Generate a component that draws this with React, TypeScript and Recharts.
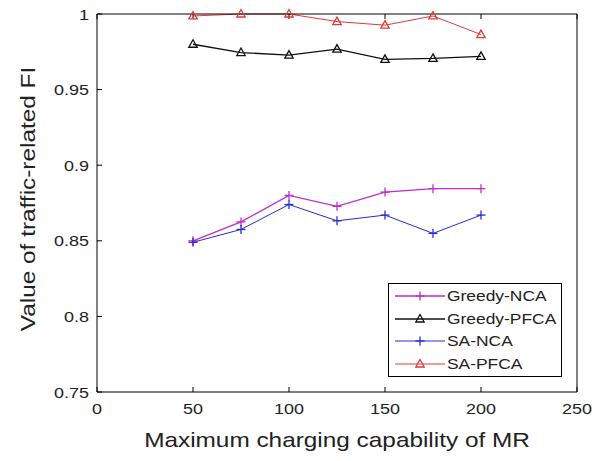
import { Legend, Line, LineChart, XAxis, YAxis } from "recharts";

const capability = [50, 75, 100, 125, 150, 175, 200];
const greedyNca = [0.85, 0.8625, 0.88, 0.8728, 0.8822, 0.8845, 0.8845];
const greedyPfca = [0.98, 0.9745, 0.9728, 0.9768, 0.97, 0.9706, 0.972];
const saNca = [0.849, 0.8575, 0.874, 0.8632, 0.867, 0.8549, 0.867];
const saPfca = [0.9987, 1.0, 1.0, 0.995, 0.9926, 0.9987, 0.9864];
const xTicks = [0, 50, 100, 150, 200, 250];
const yTicks = [0.75, 0.8, 0.85, 0.9, 0.95, 1];

const FONT = "'Liberation Sans', Arial, Helvetica, sans-serif";
const STRETCH = 1.16; // the original's Helvetica renders a bit wide
const TEXT = "#222";

type Shape = "plus" | "triangle";

const SERIES: { key: string; name: string; color: string; shape: Shape; width: number }[] = [
  { key: "greedyNca", name: "Greedy-NCA", color: "#c02cc8", shape: "plus", width: 1.3 },
  { key: "greedyPfca", name: "Greedy-PFCA", color: "#111111", shape: "triangle", width: 1.3 },
  { key: "saNca", name: "SA-NCA", color: "#2a2ad8", shape: "plus", width: 1 },
  { key: "saPfca", name: "SA-PFCA", color: "#e03a3a", shape: "triangle", width: 1 },
];

const chartData = capability.map((c, i) => ({
  capability: c,
  greedyNca: greedyNca[i],
  greedyPfca: greedyPfca[i],
  saNca: saNca[i],
  saPfca: saPfca[i],
}));

function Marker({ cx, cy, color, shape }: { cx: number; cy: number; color: string; shape: Shape }) {
  if (shape === "plus") {
    return (
      <g stroke={color} strokeWidth={1.3}>
        <line x1={cx - 4.5} x2={cx + 4.5} y1={cy} y2={cy} />
        <line x1={cx} x2={cx} y1={cy - 4.5} y2={cy + 4.5} />
      </g>
    );
  }
  return (
    <polygon
      points={`${cx},${cy - 4.5} ${cx - 4.2},${cy + 3} ${cx + 4.2},${cy + 3}`}
      fill="none"
      stroke={color}
      strokeWidth={1.3}
    />
  );
}

function XTick({ x, y, payload }: any) {
  return (
    <g transform={`translate(${x},${y})`}>
      <text
        transform={`scale(${STRETCH},1)`}
        textAnchor="middle"
        dy="0.71em"
        fontSize={15.5}
        fontFamily={FONT}
        fill={TEXT}
      >
        {payload.value}
      </text>
    </g>
  );
}

function YTick({ x, y, payload }: any) {
  return (
    <g transform={`translate(${x},${y})`}>
      <text
        transform={`scale(${STRETCH},1)`}
        textAnchor="end"
        dy="0.355em"
        fontSize={15.5}
        fontFamily={FONT}
        fill={TEXT}
      >
        {payload.value}
      </text>
    </g>
  );
}

function XTitle({ viewBox }: any) {
  return (
    <text
      transform={`translate(${viewBox.x + viewBox.width / 2},${viewBox.y + 55}) scale(${STRETCH},1)`}
      textAnchor="middle"
      fontSize={21}
      fontFamily={FONT}
      fill={TEXT}
    >
      Maximum charging capability of MR
    </text>
  );
}

function YTitle({ viewBox }: any) {
  return (
    <text
      transform={`translate(35,${viewBox.y + viewBox.height / 2 - 4}) rotate(-90) scale(${STRETCH},1)`}
      textAnchor="middle"
      fontSize={21}
      fontFamily={FONT}
      fill={TEXT}
    >
      Value of traffic-related FI
    </text>
  );
}

function LegendBox() {
  return (
    <div
      style={{
        border: "1px solid #000",
        background: "#fff",
        padding: "1px 0 1px 6px",
        boxSizing: "border-box",
        width: 174,
        height: 94,
        fontFamily: FONT,
        fontSize: 15,
        color: TEXT,
      }}
    >
      {SERIES.map((s) => (
        <div key={s.key} style={{ display: "flex", alignItems: "center", height: 22.5 }}>
          <svg width={50} height={14} style={{ display: "block" }}>
            <line x1={0} x2={50} y1={7} y2={7} stroke={s.color} strokeWidth={s.width} />
            <Marker cx={25} cy={7} color={s.color} shape={s.shape} />
          </svg>
          <span
            style={{
              marginLeft: 2,
              lineHeight: "16px",
              display: "inline-block",
              transform: `scaleX(${STRETCH})`,
              transformOrigin: "left center",
              whiteSpace: "nowrap",
            }}
          >
            {s.name}
          </span>
        </div>
      ))}
    </div>
  );
}

export default function App() {
  return (
    <div style={{ position: "absolute", left: 0, top: 0, width: 594, height: 461, background: "#fff" }}>
      <LineChart
        width={594}
        height={461}
        data={chartData}
        margin={{ top: 8, right: 11, bottom: 9, left: 0 }}
      >
        <XAxis
          dataKey="capability"
          type="number"
          domain={[0, 250]}
          ticks={xTicks}
          height={60}
          tickSize={-5}
          tickMargin={16}
          stroke="#000"
          tickLine={{ stroke: "#000" }}
          tick={<XTick />}
          label={(props: any) => <XTitle {...props} />}
        />
        <XAxis
          xAxisId="top"
          orientation="top"
          dataKey="capability"
          type="number"
          domain={[0, 250]}
          ticks={xTicks}
          height={6}
          tickSize={-5}
          stroke="#000"
          tickLine={{ stroke: "#000" }}
          tickFormatter={() => ""}
        />
        <YAxis
          type="number"
          domain={[0.75, 1]}
          ticks={yTicks}
          width={97}
          tickSize={-5}
          tickMargin={13}
          stroke="#000"
          tickLine={{ stroke: "#000" }}
          tick={<YTick />}
          label={(props: any) => <YTitle {...props} />}
        />
        <YAxis
          yAxisId="right"
          orientation="right"
          type="number"
          domain={[0.75, 1]}
          ticks={yTicks}
          width={6}
          tickSize={-5}
          stroke="#000"
          tickLine={{ stroke: "#000" }}
          tickFormatter={() => ""}
        />
        <Legend
          layout="vertical"
          align="center"
          verticalAlign="middle"
          content={() => <LegendBox />}
          wrapperStyle={{ position: "absolute", left: 388, top: 283, width: 174, height: 94 }}
        />
        {SERIES.map((s) => (
          <Line
            key={s.key}
            dataKey={s.key}
            name={s.name}
            type="linear"
            stroke={s.color}
            strokeWidth={s.width}
            isAnimationActive={false}
            dot={(p: any) => (
              <Marker key={`${s.key}-${p.index}`} cx={p.cx} cy={p.cy} color={s.color} shape={s.shape} />
            )}
            activeDot={false}
          />
        ))}
      </LineChart>
    </div>
  );
}
